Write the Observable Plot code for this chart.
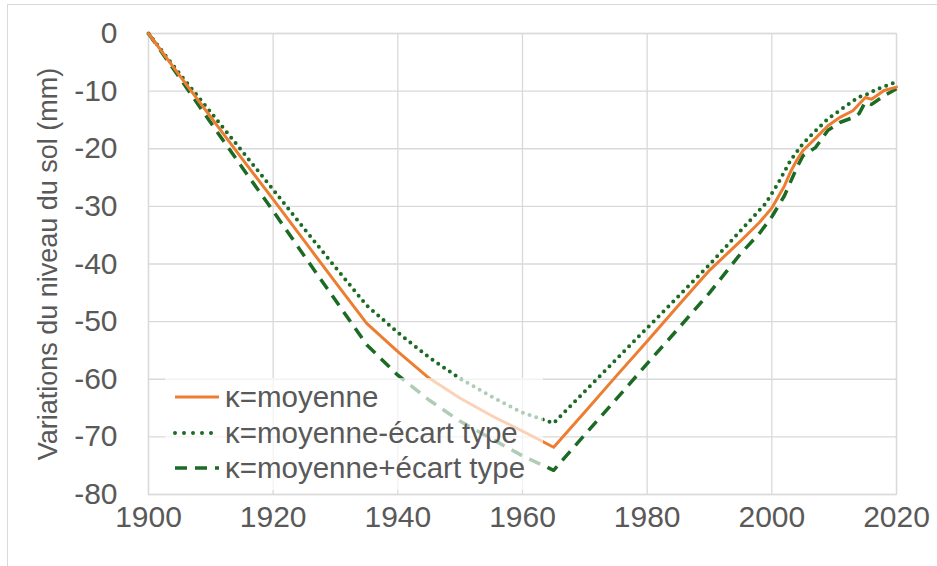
<!DOCTYPE html>
<html>
<head>
<meta charset="utf-8">
<script src="https://cdn.jsdelivr.net/npm/d3@7"></script>
<script src="https://cdn.jsdelivr.net/npm/@observablehq/plot@0.6"></script>
<style>
  html, body { margin: 0; padding: 0; background: #fff; }
  #wrap { position: relative; width: 937px; height: 566px; overflow: hidden; font-family: "Liberation Sans", Arial, sans-serif; }
  #border { position: absolute; left: 7px; top: 4px; width: 960px; height: 600px; border: 1px solid #d9d9d9; box-sizing: border-box; pointer-events: none; }
  #legend { position: absolute; left: 165px; top: 378px; width: 378px; height: 112px; background: rgba(255,255,255,0.66); }
  .row { position: absolute; left: 8px; height: 36px; display: flex; align-items: center; color: #595959; font-size: 29.5px; white-space: nowrap; }
  .row svg { margin-right: 4px; }
</style>
</head>
<body>
<div id="wrap">
  <div id="chart"></div>
  <div id="border"></div>
  <div id="legend"></div>
</div>
<script>
// ---- data ----
const meanYears = [1900,1905,1910,1915,1920,1925,1930,1935,1940,1945,1950,1955,1960,1965,1970,1975,1980,1985,1990,1995,1998,2000,2002,2003,2004,2005,2007,2009,2011,2013,2015,2016,2018,2020];
const meanVals  = [0,-7.3,-14.5,-21.7,-28.8,-36,-43.2,-50.3,-55.2,-59.8,-63.3,-66.3,-69,-71.8,-65.7,-59.5,-53.4,-47.2,-41.1,-36,-32.8,-30.3,-26.5,-24,-22,-20.3,-18.2,-16,-14.5,-13.4,-11.1,-11.4,-9.9,-9.3];

const lowYears = [1900,1905,1910,1915,1920,1925,1930,1935,1940,1945,1950,1955,1960,1965,1970,1975,1980,1985,1990,1995,1999,2001,2003,2005,2007,2009,2012,2014,2015,2017,2020];
const lowVals  = [0,-7,-13.7,-20.4,-27.1,-33.9,-40.6,-47.2,-51.9,-56.2,-59.9,-63,-65.8,-67.6,-62.1,-56.6,-51.1,-45.6,-40.1,-34.2,-29.5,-26,-22,-19.1,-16.9,-14.8,-12.5,-11,-10.7,-9.6,-8.4];

const highYears = [1900,1905,1910,1915,1920,1925,1930,1935,1940,1945,1950,1955,1960,1965,1970,1975,1980,1985,1990,1995,1998,2000,2002,2004,2005,2007,2009,2011,2013,2014,2015,2016,2018,2020];
const highVals  = [0,-7.7,-15.5,-23.2,-30.8,-38.6,-46.3,-54,-59.3,-63.6,-67.3,-70.3,-73.3,-75.8,-69.6,-63.5,-57.3,-51.2,-45,-38.2,-34.7,-31.8,-28.2,-23.3,-21.2,-19.8,-16.8,-15.4,-14.6,-13.9,-11.9,-12.3,-10.8,-9.6];

const seriesNames = ["κ=moyenne", "κ=moyenne-écart type", "κ=moyenne+écart type"];
const xTicks = [1900,1920,1940,1960,1980,2000,2020];
const yTicks = [0,-10,-20,-30,-40,-50,-60,-70,-80];
const yTitle = "Variations du niveau du sol (mm)";

const orange = "#ED7D31";
const green = "#1B6B25";

const toRows = (ys, vs) => ys.map((y, i) => ({year: y, value: vs[i]}));
const meanData = toRows(meanYears, meanVals);
const lowData = toRows(lowYears, lowVals);
const highData = toRows(highYears, highVals);

const chart = Plot.plot({
  width: 937,
  height: 566,
  marginLeft: 148,
  marginRight: 41,
  marginTop: 33,
  marginBottom: 72,
  style: { fontFamily: "'Liberation Sans', Arial, sans-serif", fontSize: "30px", color: "#595959", background: "transparent" },
  x: { domain: [1900, 2020] },
  y: { domain: [-80, 0] },
  marks: [
    Plot.gridX(xTicks, { stroke: "#d9d9d9", strokeOpacity: 1, strokeWidth: 1.3 }),
    Plot.gridY(yTicks, { stroke: "#d9d9d9", strokeOpacity: 1, strokeWidth: 1.3 }),
    Plot.frame({ stroke: "#d9d9d9", strokeWidth: 1.3 }),
    Plot.axisX({ ticks: xTicks, tickFormat: d => String(d), tickSize: 0, tickPadding: 11, label: null }),
    Plot.axisY({ ticks: yTicks, tickFormat: d => String(d), tickSize: 0, tickPadding: 31, label: null }),
    Plot.text([yTitle], { frameAnchor: "left", rotate: -90, dx: -100, fontSize: 27, fill: "#595959", textAnchor: "middle", lineAnchor: "middle" }),
    Plot.line(highData, { x: "year", y: "value", stroke: green, strokeWidth: 3.5, strokeDasharray: "12 8", strokeLinecap: "butt" }),
    Plot.line(lowData, { x: "year", y: "value", stroke: green, strokeWidth: 4, strokeDasharray: "0 7", strokeLinecap: "round" }),
    Plot.line(meanData, { x: "year", y: "value", stroke: orange, strokeWidth: 3 })
  ]
});
document.getElementById("chart").appendChild(chart);

// legend
const styles = [
  { stroke: orange, dash: null, cap: "butt", w: 3 },
  { stroke: green, dash: "0 9", cap: "round", w: 4 },
  { stroke: green, dash: "12 8", cap: "butt", w: 3.5 }
];
const tops = [1, 37, 72];
const legend = document.getElementById("legend");
seriesNames.forEach((name, i) => {
  const s = styles[i];
  const row = document.createElement("div");
  row.className = "row";
  row.style.top = tops[i] + "px";
  row.innerHTML = `<svg width="48" height="10"><line x1="2" y1="5" x2="46" y2="5" stroke="${s.stroke}" stroke-width="${s.w}" ${s.dash ? `stroke-dasharray="${s.dash}"` : ""} stroke-linecap="${s.cap}"/></svg><span>${name}</span>`;
  legend.appendChild(row);
});
</script>
</body>
</html>
